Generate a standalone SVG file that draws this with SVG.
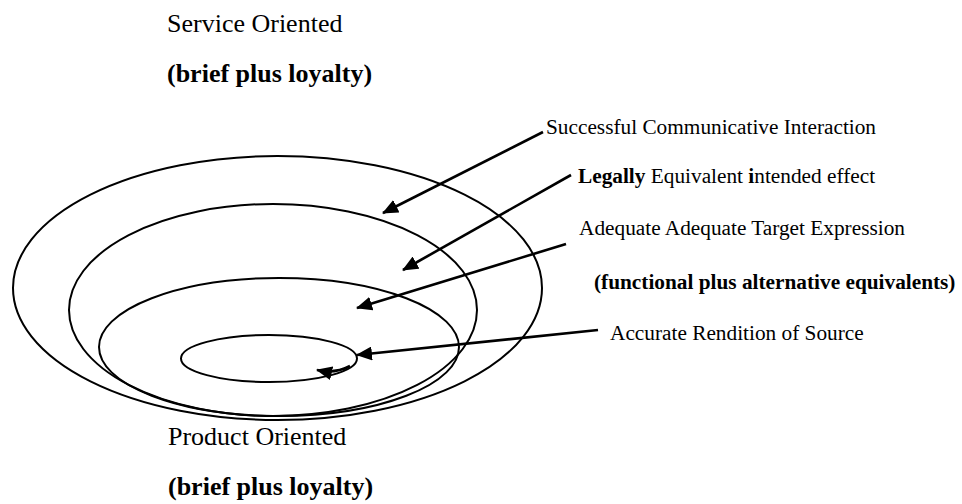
<svg xmlns="http://www.w3.org/2000/svg" width="962" height="504" viewBox="0 0 962 504">
<style>
.ring{fill:none;stroke:#000;stroke-width:2}
.conn{fill:none;stroke:#000;stroke-width:2.6;marker-end:url(#ah)}
.big{font-family:"Liberation Serif","Times New Roman",serif;font-size:26px;fill:#000}
.lbl{font-family:"Liberation Serif","Times New Roman",serif;font-size:21.3px;fill:#000}
.b{font-weight:bold}
</style>
<defs>
<marker id="ah" viewBox="0 0 16 14" refX="15" refY="7" markerWidth="16" markerHeight="14" markerUnits="userSpaceOnUse" orient="auto">
<path d="M0,0 L16,7 L0,14 z" fill="#000"/>
</marker>
</defs>
<rect width="962" height="504" fill="#fff"/>
<g id="title-service">
<text class="big" x="167" y="32">Service Oriented</text>
<text class="big b" x="167" y="82">(brief plus loyalty)</text>
</g>
<g id="ring-interaction"><ellipse class="ring" cx="277.5" cy="288" rx="264.5" ry="132"/></g>
<g id="ring-intended-effect"><ellipse class="ring" cx="273" cy="310" rx="204" ry="106"/></g>
<g id="ring-target-expression"><ellipse class="ring" cx="279" cy="347" rx="180" ry="69"/></g>
<g id="ring-source"><ellipse class="ring" cx="269" cy="358.5" rx="88" ry="23.5"/></g>
<g id="label-interaction"><text class="lbl" x="546" y="134">Successful Communicative Interaction</text></g>
<g id="label-intended-effect"><text class="lbl" x="578" y="183"><tspan class="b">Legally</tspan> Equivalent <tspan class="b">i</tspan>ntended effect</text></g>
<g id="label-target-expression">
<text class="lbl" x="579" y="235">Adequate Adequate Target Expression</text>
<text class="lbl b" x="594" y="289">(functional plus alternative equivalents)</text>
</g>
<g id="label-source"><text class="lbl" x="610" y="340">Accurate Rendition of Source</text></g>
<g id="title-product">
<text class="big" x="168" y="445">Product Oriented</text>
<text class="big b" x="168" y="495">(brief plus loyalty)</text>
</g>
<g id="connectors">
<path class="conn" d="M543,132 L383,213"/>
<path class="conn" d="M571,175 L403,270"/>
<path class="conn" d="M566,244 L357,308"/>
<path class="conn" d="M598,330 L357,355"/>
<path class="conn" d="M350,366 Q335,374 317,370"/>
</g>
</svg>
